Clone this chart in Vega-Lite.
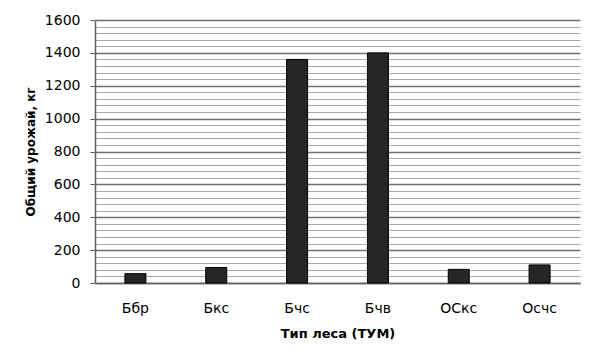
{
  "$schema": "https://vega.github.io/schema/vega-lite/v6.json",
  "autosize": "none",
  "padding": {"left": 95, "top": 20, "right": 20, "bottom": 79},
  "width": 485,
  "height": 263,
  "background": "white",
  "data": {"values": [
    {"type": "Ббр", "value": 57},
    {"type": "Бкс", "value": 94},
    {"type": "Бчс", "value": 1360},
    {"type": "Бчв", "value": 1400},
    {"type": "ОСкс", "value": 83},
    {"type": "Осчс", "value": 110}
  ]},
  "mark": {"type": "bar", "color": "#262626", "stroke": "#000000", "strokeWidth": 1},
  "encoding": {
    "x": {
      "field": "type", "type": "nominal", "sort": null,
      "scale": {"paddingInner": 0.74, "paddingOuter": 0.37},
      "axis": {
        "title": "Тип леса (ТУМ)", "labelAngle": 0, "ticks": false,
        "labelFont": "DejaVu Sans", "labelFontSize": 14, "labelColor": "#000",
        "labelPadding": 18, "titleFont": "DejaVu Sans", "titleFontSize": 13,
        "titleFontWeight": "bold", "titleColor": "#000", "titlePadding": 12,
        "domainColor": "#606060", "domainWidth": 1.5, "grid": false
      }
    },
    "y": {
      "field": "value", "type": "quantitative",
      "scale": {"domain": [0, 1600], "nice": false},
      "axis": {
        "title": "Общий урожай,  кг",
        "values": [0,40,80,120,160,200,240,280,320,360,400,440,480,520,560,600,640,680,720,760,800,840,880,920,960,1000,1040,1080,1120,1160,1200,1240,1280,1320,1360,1400,1440,1480,1520,1560,1600],
        "labelExpr": "datum.value % 200 === 0 ? datum.label : ''",
        "format": "d",
        "grid": true,
        "gridColor": {"condition": {"test": "datum.value % 200 === 0", "value": "#707070"}, "value": "#a8a8a8"},
        "gridWidth": {"condition": {"test": "datum.value % 200 === 0", "value": 1.5}, "value": 1.2},
        "tickOpacity": {"condition": {"test": "datum.value % 200 === 0", "value": 1}, "value": 0},
        "tickColor": "#606060", "tickSize": 5,
        "domainColor": "#606060", "domainWidth": 1.5,
        "labelFont": "DejaVu Sans", "labelFontSize": 14, "labelColor": "#000", "labelPadding": 10,
        "titleFont": "DejaVu Sans", "titleFontSize": 12, "titleFontWeight": "bold",
        "titleColor": "#000", "titlePadding": 7
      }
    }
  },
  "config": {"view": {"stroke": null}}
}
